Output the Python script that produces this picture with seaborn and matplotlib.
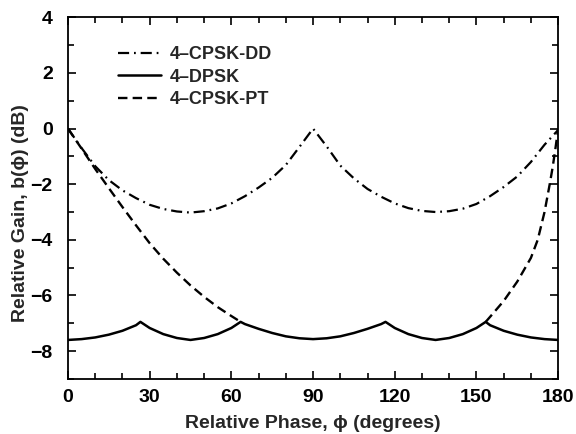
import matplotlib.pyplot as plt
import seaborn as sns
from matplotlib.ticker import MultipleLocator

# 4-CPSK-DD, sampled every 5 degrees
dd_phase = [0, 5, 10, 15, 20, 25, 30, 35, 40, 45, 50, 55, 60, 65, 70, 75, 80, 85, 90,
            95, 100, 105, 110, 115, 120, 125, 130, 135, 140, 145, 150, 155, 160, 165, 170, 175, 180]
dd_gain = [0.0, -0.70, -1.35, -1.85, -2.22, -2.50, -2.74, -2.89, -2.98, -3.02, -2.97, -2.87,
           -2.69, -2.43, -2.12, -1.77, -1.31, -0.66, 0.0,
           -0.64, -1.33, -1.79, -2.17, -2.45, -2.69, -2.86, -2.96, -3.00, -2.97, -2.88,
           -2.71, -2.43, -2.10, -1.72, -1.20, -0.58, -0.05]

# 4-DPSK, cusps near 26.6, 63.4, 116.6, 153.4 degrees
dpsk_phase = [0, 5, 10, 15, 20, 25, 26.6, 30, 35, 40, 45, 50, 55, 60, 63.4, 65, 70, 75, 80, 85, 90,
              95, 100, 105, 110, 115, 116.6, 120, 125, 130, 135, 140, 145, 150, 153.4, 155, 160,
              165, 170, 175, 180]
dpsk_gain = [-7.60, -7.57, -7.51, -7.41, -7.27, -7.07, -6.95, -7.17, -7.39, -7.53, -7.60, -7.53,
             -7.39, -7.17, -6.95, -7.03, -7.20, -7.35, -7.47, -7.54, -7.57,
             -7.54, -7.47, -7.35, -7.20, -7.03, -6.95, -7.17, -7.39, -7.53, -7.60, -7.53, -7.39,
             -7.17, -6.95, -7.07, -7.27, -7.41, -7.51, -7.57, -7.60]

# 4-CPSK-PT, visible only above the DPSK curve
pt_left_phase = [0, 5, 10, 15, 20, 25, 30, 35, 40, 45, 50, 55, 60, 63.4]
pt_left_gain = [0.0, -0.72, -1.45, -2.14, -2.82, -3.48, -4.12, -4.68, -5.18, -5.64, -6.05,
                -6.42, -6.74, -6.95]
pt_right_phase = [153.4, 155, 160, 165, 170, 172.5, 175, 177, 178, 179, 180]
pt_right_gain = [-6.95, -6.77, -6.20, -5.50, -4.65, -4.00, -3.00, -1.95, -1.38, -0.72, 0.0]

sns.set_theme(style="ticks")
plt.rcParams["font.family"] = ["Liberation Sans", "DejaVu Sans"]
plt.rcParams["font.weight"] = "bold"

fig, ax = plt.subplots(figsize=(5.76, 4.34), dpi=100)
fig.subplots_adjust(left=0.118, right=0.969, bottom=0.127, top=0.960)

sns.lineplot(x=dd_phase, y=dd_gain, ax=ax, color="black", lw=1.6,
             linestyle=(0, (5, 2.2, 0.8, 2.2)), label="4\u2013CPSK-DD", estimator=None)
sns.lineplot(x=dpsk_phase, y=dpsk_gain, ax=ax, color="black", lw=1.8,
             label="4\u2013DPSK", estimator=None)
sns.lineplot(x=pt_left_phase, y=pt_left_gain, ax=ax, color="black", lw=1.7,
             linestyle=(0, (4, 2.2)), label="4\u2013CPSK-PT", estimator=None)
sns.lineplot(x=pt_right_phase, y=pt_right_gain, ax=ax, color="black", lw=1.7,
             linestyle=(0, (4, 2.2)), estimator=None)

ax.set_xlim(0, 180)
ax.set_ylim(-9, 4)
ax.xaxis.set_major_locator(MultipleLocator(30))
ax.xaxis.set_minor_locator(MultipleLocator(10))
ax.yaxis.set_major_locator(MultipleLocator(2))
ax.yaxis.set_minor_locator(MultipleLocator(1))
ax.tick_params(which="both", direction="in", top=True, right=True, width=1.2,
               labelsize=14, colors="black")
ax.tick_params(which="major", length=6)
ax.tick_params(which="minor", length=4)
ax.tick_params(axis="x", which="major", pad=7)
ax.tick_params(axis="y", which="major", pad=11)
for spine in ax.spines.values():
    spine.set_linewidth(1.3)
    spine.set_color("black")

ax.set_xlabel("Relative Phase, \u03d5 (degrees)", fontsize=14, fontweight="bold")
ax.set_ylabel("Relative Gain, b(\u03d5) (dB)", fontsize=14, fontweight="bold")
ax.xaxis.set_label_coords(0.5, -0.10)
ax.yaxis.set_label_coords(-0.08, 0.46)

ax.legend(loc="upper left", bbox_to_anchor=(0.068, 0.965), frameon=False, fontsize=13,
          handlelength=2.4, handletextpad=0.5, labelspacing=0.3)

fig.savefig("out.png", dpi=100)
